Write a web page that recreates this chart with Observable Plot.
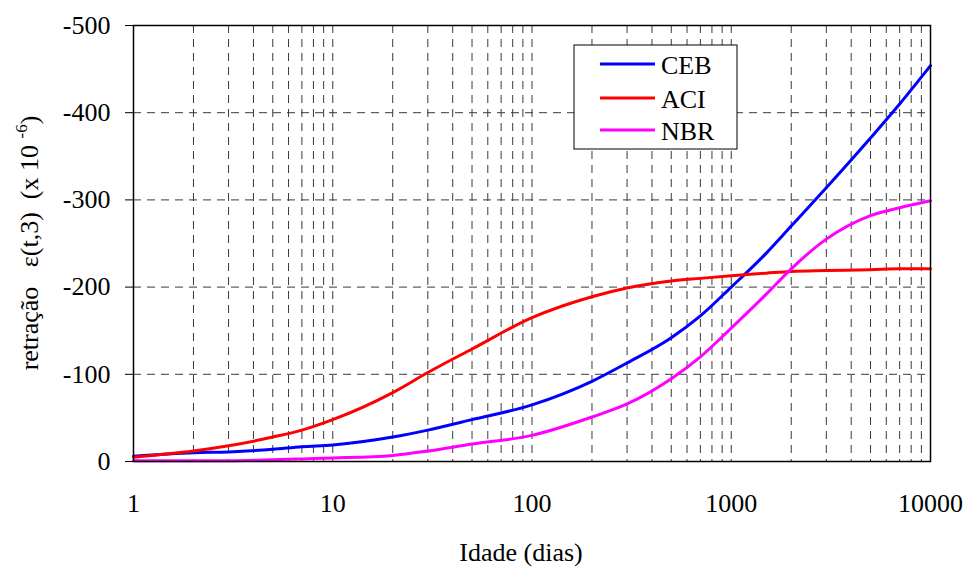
<!DOCTYPE html>
<html>
<head>
<meta charset="utf-8">
<script src="https://cdn.jsdelivr.net/npm/d3@7"></script>
<script src="https://cdn.jsdelivr.net/npm/@observablehq/plot@0.6"></script>
<style>
  body { margin: 0; background: white; }
  svg { display: block; }
</style>
</head>
<body>
<div id="chart"></div>
<script>
// ---- data ----
const days = [1, 2, 3, 5, 7, 10, 20, 30, 50, 100, 200, 300, 500, 700, 1000, 1500, 2000, 3000, 5000, 7000, 10000];
const ceb  = [-6, -10, -11, -14, -17, -19, -28, -36, -48, -65, -92, -113, -142, -167, -200, -239, -270, -314, -371, -410, -454];
const aci  = [-5, -12, -18, -28, -36, -48, -79, -102, -129, -165, -189, -199, -207, -210, -213, -216, -218, -219, -220, -221, -221];
const nbr  = [-1, -1, -1, -2, -3, -4, -7, -12, -20, -30, -51, -66, -95, -120, -153, -192, -221, -255, -282, -291, -299];

const seriesNames = ["CEB", "ACI", "NBR"];
const seriesColors = ["#0000ff", "#ff0000", "#ff00ff"];
const seriesValues = [ceb, aci, nbr];

const xTickValues = [1, 10, 100, 1000, 10000];
const xGridValues = [];
for (let d = 1; d < 10000; d *= 10) for (let k = 1; k <= 9; k++) xGridValues.push(d * k);
xGridValues.push(10000);
const yTickValues = [0, -100, -200, -300, -400, -500];

const yLabelMain = "retração   ε(t,3)  (x 10 ";
const yLabelSup = "-6";
const yLabelEnd = ")";
const xLabel = "Idade (dias)";

const rows = [];
seriesNames.forEach((name, i) => {
  days.forEach((t, j) => rows.push({serie: name, t, v: seriesValues[i][j]}));
});

const W = 967, H = 568;
const mL = 133, mR = 37, mT = 25, mB = 107;
const font = "'Liberation Serif', 'Times New Roman', serif";

const svg = Plot.plot({
  width: W,
  height: H,
  marginLeft: mL,
  marginRight: mR,
  marginTop: mT,
  marginBottom: mB,
  style: {fontFamily: font, fontSize: "26px", background: "white", color: "black"},
  x: {type: "log", domain: [1, 10000]},
  y: {domain: [0, -500]},
  color: {domain: seriesNames, range: seriesColors},
  marks: [
    Plot.ruleX(xGridValues.filter(d => d > 1 && d < 10000), {stroke: "#3a3a3a", strokeWidth: 1, strokeDasharray: "8,6"}),
    Plot.ruleY(yTickValues.filter(d => d !== 0 && d !== -500), {stroke: "#3a3a3a", strokeWidth: 1, strokeDasharray: "8,6"}),
    Plot.line(rows, {x: "t", y: "v", z: "serie", stroke: "serie", strokeWidth: 3, curve: "monotone-x"}),
    Plot.frame({stroke: "black", strokeWidth: 1.5}),
    Plot.axisY({ticks: yTickValues, tickSize: 8, tickPadding: 15, tickFormat: d => String(d), label: null, stroke: "black", fontSize: 26}),
    Plot.axisX({ticks: xTickValues, tickSize: 0, tickPadding: 32, tickFormat: d => String(d), label: null, fontSize: 26})
  ]
});

document.getElementById("chart").appendChild(svg);

const s = d3.select(svg);

// y axis label
const yl = s.append("text")
  .attr("transform", "translate(38,243) rotate(-90)")
  .attr("text-anchor", "middle")
  .attr("font-family", font)
  .attr("font-size", 26)
  .attr("fill", "black");
yl.append("tspan").text(yLabelMain);
yl.append("tspan").attr("font-size", 17).attr("dy", -11).text(yLabelSup);
yl.append("tspan").attr("dy", 11).text(yLabelEnd);

// x axis label
s.append("text")
  .attr("x", 521).attr("y", 561)
  .attr("text-anchor", "middle")
  .attr("font-family", font)
  .attr("font-size", 26)
  .attr("fill", "black")
  .text(xLabel);

// legend
const lg = s.append("g");
lg.append("rect").attr("x", 574).attr("y", 45).attr("width", 163).attr("height", 104)
  .attr("fill", "white").attr("stroke", "black").attr("stroke-width", 1);
seriesNames.forEach((name, i) => {
  const y = [64, 98, 130][i];
  lg.append("line").attr("x1", 600).attr("x2", 655).attr("y1", y).attr("y2", y)
    .attr("stroke", seriesColors[i]).attr("stroke-width", 3);
  lg.append("text").attr("x", 661).attr("y", y + 10)
    .attr("text-anchor", "start")
    .attr("font-family", font).attr("font-size", 26).attr("fill", "black").text(name);
});
</script>
</body>
</html>
